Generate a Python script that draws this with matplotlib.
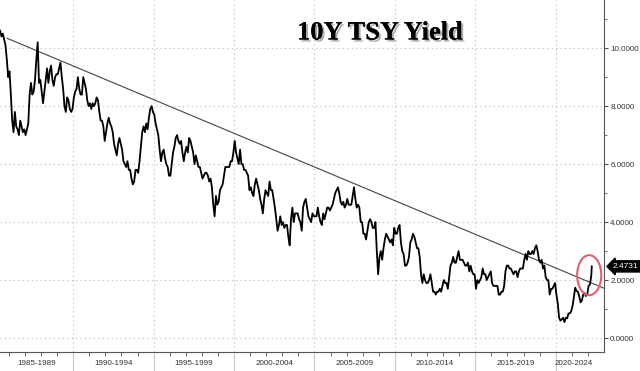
import numpy as np
import matplotlib
matplotlib.use("Agg")
import matplotlib.pyplot as plt
from matplotlib.patches import Ellipse
from matplotlib.ticker import FixedLocator, FormatStrFormatter
import matplotlib.patheffects as pe
import matplotlib.transforms as mtransforms

# ---- data: monthly 10Y Treasury yield (%), starting June 1985 ----
start_year = 1985
start_month = 6
yields = [
    10.6, 10.4, 10.5, 10.3, 10.1, 9.6, 9.0,                              # 1985 Jun-Dec
    9.2, 8.4, 7.5, 7.1, 7.8, 7.3, 7.2, 7.0, 7.5, 7.3, 7.1, 7.2,          # 1986
    7.0, 7.2, 7.4, 8.4, 8.8, 8.4, 8.5, 8.9, 9.6, 10.2, 8.8, 8.9,         # 1987
    8.5, 8.1, 8.5, 8.9, 9.3, 8.8, 9.2, 9.4, 8.9, 8.7, 9.0, 9.1,          # 1988
    9.1, 9.3, 9.5, 9.0, 8.6, 8.0, 7.8, 8.3, 8.2, 7.9, 7.8, 7.9,          # 1989
    8.3, 8.5, 8.6, 9.0, 8.6, 8.4, 8.4, 9.0, 8.8, 8.6, 8.2, 8.0,          # 1990
    8.1, 7.9, 8.1, 8.0, 8.1, 8.3, 8.2, 7.8, 7.5, 7.5, 7.3, 6.8,          # 1991
    7.1, 7.4, 7.6, 7.4, 7.3, 7.1, 6.7, 6.5, 6.3, 6.7, 6.9, 6.7,          # 1992
    6.5, 6.1, 6.0, 5.9, 6.1, 5.8, 5.8, 5.5, 5.3, 5.4, 5.8, 5.8,          # 1993
    5.7, 6.1, 6.6, 7.1, 7.3, 7.1, 7.4, 7.2, 7.6, 7.9, 8.0, 7.8,          # 1994
    7.7, 7.4, 7.2, 7.0, 6.5, 6.1, 6.4, 6.5, 6.2, 6.0, 5.9, 5.6,          # 1995
    5.6, 6.0, 6.4, 6.6, 6.9, 7.0, 6.8, 6.7, 6.8, 6.4, 6.1, 6.4,          # 1996
    6.6, 6.4, 6.9, 6.8, 6.6, 6.4, 6.0, 6.3, 6.1, 5.9, 5.9, 5.7,          # 1997
    5.5, 5.6, 5.7, 5.7, 5.6, 5.4, 5.5, 5.2, 4.6, 4.2, 4.9, 4.6,          # 1998
    4.7, 5.1, 5.2, 5.3, 5.6, 5.9, 5.9, 5.9, 5.9, 6.1, 6.1, 6.4,          # 1999
    6.8, 6.4, 6.2, 6.0, 6.5, 6.0, 6.0, 5.8, 5.8, 5.7, 5.6, 5.1,          # 2000
    5.2, 5.0, 4.9, 5.3, 5.5, 5.3, 5.1, 4.8, 4.6, 4.3, 4.8, 5.1,          # 2001
    5.0, 4.9, 5.4, 5.1, 5.1, 4.8, 4.5, 4.1, 3.7, 3.9, 4.2, 3.9,          # 2002
    4.0, 3.8, 3.9, 3.9, 3.5, 3.2, 4.1, 4.5, 4.0, 4.3, 4.3, 4.3,          # 2003
    4.1, 4.0, 3.7, 4.5, 4.7, 4.8, 4.5, 4.2, 4.1, 4.0, 4.3, 4.2,          # 2004
    4.2, 4.2, 4.5, 4.2, 4.0, 3.9, 4.3, 4.1, 4.3, 4.5, 4.5, 4.4,          # 2005
    4.5, 4.6, 4.8, 5.0, 5.1, 5.2, 5.0, 4.7, 4.6, 4.7, 4.5, 4.6,          # 2006
    4.8, 4.6, 4.6, 4.6, 4.9, 5.2, 4.8, 4.5, 4.6, 4.5, 4.0, 4.0,          # 2007
    3.6, 3.6, 3.4, 3.7, 4.0, 4.1, 4.0, 3.8, 3.8, 4.0, 3.0, 2.2,          # 2008
    2.8, 3.0, 2.7, 3.1, 3.4, 3.6, 3.5, 3.4, 3.3, 3.4, 3.2, 3.8,          # 2009
    3.6, 3.6, 3.8, 3.9, 3.3, 3.0, 2.9, 2.5, 2.5, 2.6, 2.8, 3.3,          # 2010
    3.4, 3.6, 3.5, 3.3, 3.1, 3.1, 2.8, 2.2, 1.9, 2.2, 2.0, 1.9,          # 2011
    1.9, 2.0, 2.2, 1.9, 1.6, 1.6, 1.5, 1.6, 1.6, 1.7, 1.6, 1.8,          # 2012
    2.0, 1.9, 1.9, 1.7, 2.1, 2.5, 2.6, 2.8, 2.6, 2.6, 2.8, 3.0,          # 2013
    2.7, 2.7, 2.7, 2.6, 2.5, 2.5, 2.6, 2.3, 2.5, 2.3, 2.2, 2.2,          # 2014
    1.7, 2.0, 1.9, 2.0, 2.1, 2.4, 2.2, 2.2, 2.0, 2.1, 2.2, 2.3,          # 2015
    1.9, 1.8, 1.8, 1.8, 1.8, 1.5, 1.5, 1.6, 1.6, 1.8, 2.3, 2.5,          # 2016
    2.5, 2.4, 2.4, 2.3, 2.2, 2.3, 2.3, 2.1, 2.3, 2.4, 2.4, 2.4,          # 2017
    2.7, 2.9, 2.7, 3.0, 2.9, 2.9, 3.0, 2.9, 3.1, 3.2, 3.0, 2.7,          # 2018
    2.6, 2.7, 2.4, 2.5, 2.1, 2.0, 2.0, 1.5, 1.7, 1.7, 1.8, 1.9,          # 2019
    1.5, 1.2, 0.7, 0.6, 0.65, 0.7, 0.55, 0.7, 0.68, 0.85, 0.85, 0.92,    # 2020
    1.1, 1.4, 1.74, 1.63, 1.6, 1.45, 1.23, 1.3, 1.5, 1.55, 1.45, 1.5,    # 2021
    1.8, 1.85, 2.15,                                                     # 2022 Jan-Mar
]
last_x = 2022.24
last_value = 2.4731

trend_x = [1985.89, 2023.0]
trend_y = [10.34, 1.72]

period_labels = ["1985-1989", "1990-1994", "1995-1999", "2000-2004",
                 "2005-2009", "2010-2014", "2015-2019", "2020-2024"]
period_centers = [1987.75, 1992.5, 1997.5, 2002.5, 2007.5, 2012.5, 2017.5, 2021.1]
period_bounds = [1990, 1995, 2000, 2005, 2010, 2015, 2020]

y_major = [0, 2, 4, 6, 8, 10]
y_minor = [1, 3, 5, 7, 9, 11]

# ---- build x positions ----
x = start_year + (start_month - 1) / 12 + (np.arange(len(yields)) + 0.5) / 12
x = np.append(x, last_x)
y = np.append(np.array(yields), last_value)

fig = plt.figure(figsize=(6.4, 3.71), dpi=100)
ax = fig.add_axes([0.0, 19 / 371, 604 / 640, 352 / 371])

ax.set_xlim(1985.45, 2023.0)
ax.set_ylim(-0.48, 11.66)

# grid
grid_kw = dict(color="#c4c4c4", lw=0.8, ls=(0, (1.2, 2.8)), zorder=0)
for b in period_bounds:
    ax.axvline(b, **grid_kw)
for v in y_major:
    ax.axhline(v, **grid_kw)

# series
ax.plot(x, y, color="black", lw=1.3, zorder=3)
ax.plot(trend_x, trend_y, color="#444444", lw=0.8, zorder=2)

# red ellipse highlight
ax.add_patch(Ellipse((2022.08, 2.17), 1.5, 1.38, fill=False,
                     ec="#e06070", lw=1.5, zorder=4))

# spines
for s in ["left", "top"]:
    ax.spines[s].set_visible(False)
for s in ["right", "bottom"]:
    ax.spines[s].set_color("#555555")
    ax.spines[s].set_linewidth(0.8)

tick_font = dict(family=["Liberation Sans", "DejaVu Sans"], size=5.8)

# y axis on right
ax.yaxis.tick_right()
ax.yaxis.set_major_locator(FixedLocator(y_major))
ax.yaxis.set_minor_locator(FixedLocator(y_minor))
ax.yaxis.set_major_formatter(FormatStrFormatter("%.4f"))
ax.tick_params(axis="y", which="major", length=3, width=0.8, color="#555555",
               labelcolor="#333333", pad=1.5)
ax.tick_params(axis="y", which="minor", length=2.5, width=0.6, color="#555555")
for lbl in ax.get_yticklabels():
    lbl.set_fontfamily(tick_font["family"])
    lbl.set_fontsize(tick_font["size"])

# x axis: year ticks, long separators at 5-year bounds
ax.xaxis.set_major_locator(FixedLocator(period_bounds))
ax.xaxis.set_minor_locator(FixedLocator(list(range(1986, 2023))))
ax.set_xticklabels([])
ax.tick_params(axis="x", which="major", length=14, width=0.8, color="#c8c8c8")
ax.tick_params(axis="x", which="minor", length=3, width=0.6, color="#555555")

trans = mtransforms.blended_transform_factory(ax.transData, ax.transAxes)
for lab, c in zip(period_labels, period_centers):
    ax.text(c, -0.022, lab, transform=trans, ha="center", va="top",
            fontsize=5.8, family=tick_font["family"], color="#333333")

# last value tag
ytrans = mtransforms.blended_transform_factory(ax.transAxes, ax.transData)
ax.annotate(f"{last_value:.4f}", xy=(1.0, last_value), xycoords=ytrans,
            xytext=(6.5, 0), textcoords="offset points", ha="left", va="center",
            fontsize=6, family=tick_font["family"], color="white",
            bbox=dict(boxstyle="larrow,pad=0.25", fc="black", ec="black"),
            annotation_clip=False)

# title
fig.text(380 / 640, 1 - 33 / 371, "10Y TSY Yield", ha="center", va="center",
         fontsize=19, fontweight="bold", family="Liberation Serif", color="black",
         path_effects=[pe.withSimplePatchShadow(offset=(1.5, -1.5),
                                                shadow_rgbFace="#777777", alpha=0.6),
                       pe.Normal()])

fig.savefig("out.png", dpi=100)
